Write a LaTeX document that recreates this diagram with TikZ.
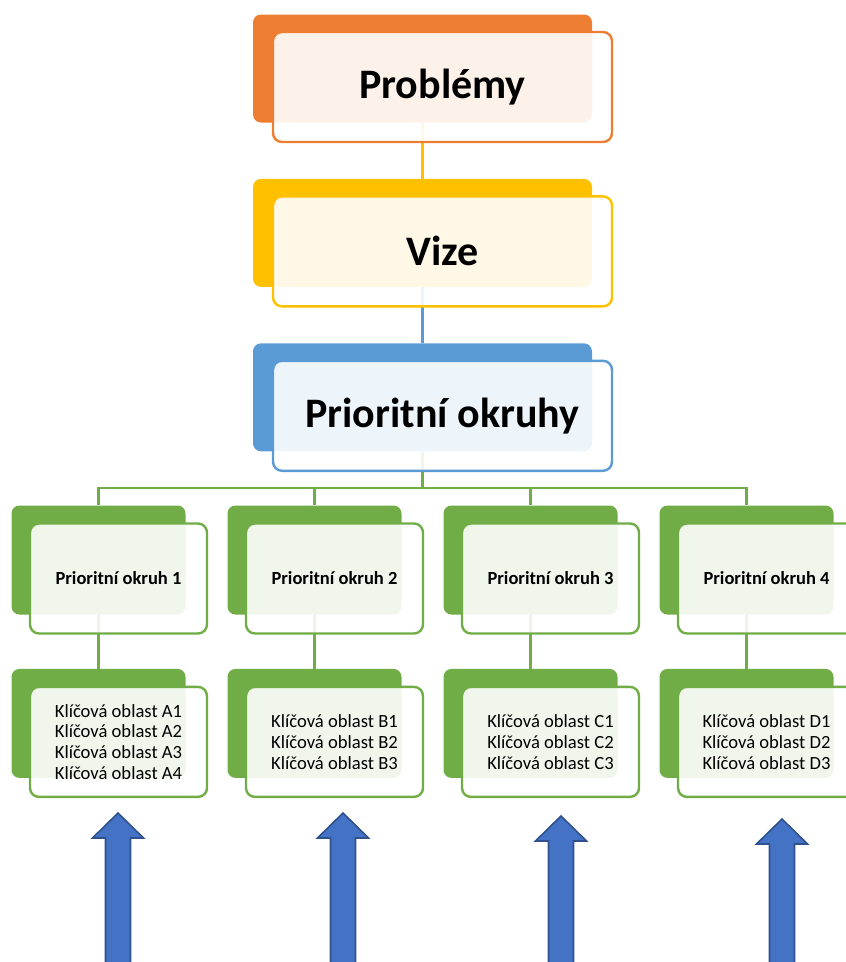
\documentclass[tikz,border=0pt]{standalone}
\usepackage{fontspec}
\setmainfont{Carlito}
\usepackage{xcolor}
\usepackage{tikz}
\usetikzlibrary{positioning}
\definecolor{cOrange}{HTML}{ED7D31}
\definecolor{cYellow}{HTML}{FFC000}
\definecolor{cBlue}{HTML}{5B9BD5}
\definecolor{cGreen}{HTML}{70AD47}
\definecolor{cArrow}{HTML}{4472C4}
\definecolor{cArrowEdge}{HTML}{2F528F}
\tikzset{
    backbox/.style={rectangle, rounded corners=8pt, fill=#1, minimum width=339pt, minimum height=108pt, inner sep=0pt},
    frontbox/.style={rectangle, rounded corners=9pt, draw=#1, line width=2.4pt, fill=white, fill opacity=0.9, text opacity=1, minimum width=339pt, minimum height=110pt, inner sep=0pt},
    smallbox/.style={minimum width=174pt, minimum height=109pt},
    smallfront/.style={minimum width=177pt, minimum height=110pt},
    bigtext/.style={font=\fontsize{42}{50}\selectfont\bfseries},
    midtext/.style={font=\fontsize{18.5}{22}\selectfont\bfseries},
    listtext/.style={font=\fontsize{18.6}{20.8}\selectfont, align=left},
    link/.style={draw=#1, line width=2.5pt},
    uparrow/.style={fill=cArrow, draw=cArrowEdge, line width=1.6pt, line join=miter}
}

\begin{document}
\begin{tikzpicture}[x=1pt, y=-1pt, node distance=56pt]
    \useasboundingbox (0,0) rectangle (846,962);
    \clip (0,0) rectangle (846,962);

    % upper levels
    \node (probl-bg) [backbox=cOrange] at (422.5,68.5) {};
    \node (vize-bg) [backbox=cYellow, below=of probl-bg] {};
    \node (okr-bg) [backbox=cBlue, below=of vize-bg] {};
    \draw[link=cYellow] (probl-bg) -- (vize-bg);
    \draw[link=cBlue] (vize-bg) -- (okr-bg);

    % priority areas and key areas
    \foreach \i/\items in {
        1/{Klíčová oblast A1\\Klíčová oblast A2\\Klíčová oblast A3\\Klíčová oblast A4},
        2/{Klíčová oblast B1\\Klíčová oblast B2\\Klíčová oblast B3},
        3/{Klíčová oblast C1\\Klíčová oblast C2\\Klíčová oblast C3},
        4/{Klíčová oblast D1\\Klíčová oblast D2\\Klíčová oblast D3}} {
        \node (po\i-bg) [backbox=cGreen, smallbox] at ({422.5+(\i-2.5)*216},560) {};
        \node (ko\i-bg) [backbox=cGreen, smallbox, below=54pt of po\i-bg] {};
        \draw[link=cGreen] (okr-bg.south) -- ++(0,36.5) -| (po\i-bg);
        \draw[link=cGreen] (po\i-bg) -- (ko\i-bg);
        \node (po\i) [frontbox=cGreen, smallfront, midtext] at ([shift={(20,18.5)}]po\i-bg.center) {Prioritní okruh \i};
        \node (ko\i) [frontbox=cGreen, smallfront, listtext] at ([shift={(20,18.5)}]ko\i-bg.center) {\items};
    }

    \node (probl) [frontbox=cOrange, bigtext] at ([shift={(20,18.5)}]probl-bg.center) {Problémy};
    \node (vize) [frontbox=cYellow, bigtext] at ([shift={(20,18.5)}]vize-bg.center) {Vize};
    \node (okr) [frontbox=cBlue, bigtext] at ([shift={(20,18.5)}]okr-bg.center) {Prioritní okruhy};

    % arrows from below
    \foreach \ax/\ay in {118/813, 343/813, 561/816, 782/819}
        \draw[uparrow] (\ax,\ay) -- ++(25.5,25) -- ++(-13,0) -- ++(0,150) -- ++(-25,0) -- ++(0,-150) -- ++(-13,0) -- cycle;
\end{tikzpicture}
\end{document}
